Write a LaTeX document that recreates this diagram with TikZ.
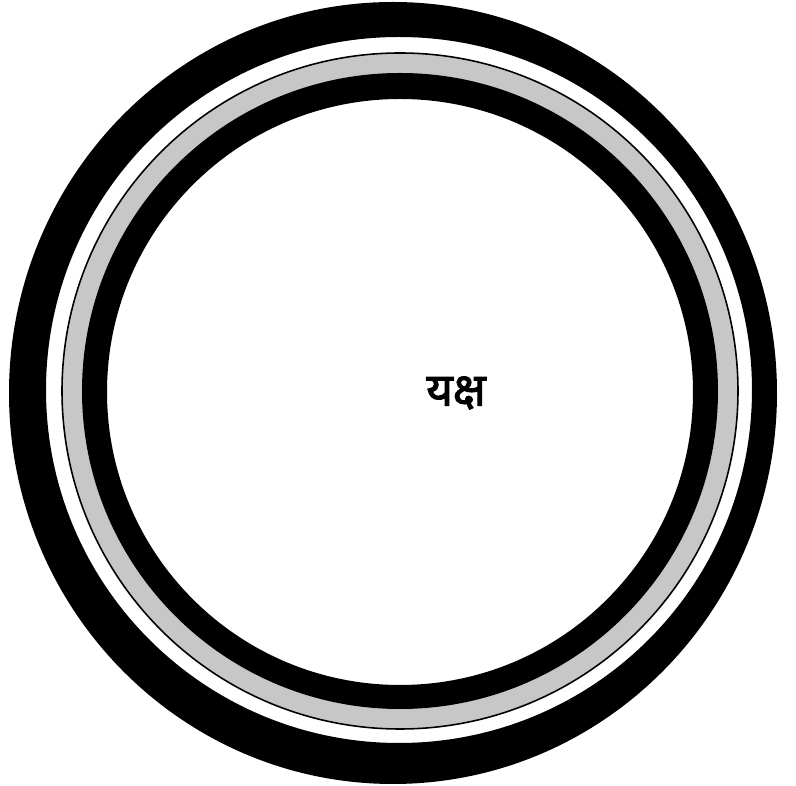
\documentclass[tikz,border=0pt]{standalone}
\usepackage{fontspec}
\newfontfamily\devfont[Script=Devanagari, FakeBold=2.5]{Noto Sans}
\usetikzlibrary{positioning}

\begin{document}
\begin{tikzpicture}[
    x=0.02cm, y=-0.02cm,
    ring/.style={fill=black, even odd rule},
    stipple/.style={fill=black!22, even odd rule},
    rim/.style={draw=black, line width=0.9pt},
    word/.style={font=\devfont\fontsize{26}{28}\selectfont, inner sep=0pt}
]
    \useasboundingbox (0,0) rectangle (796,786);
    \coordinate (outer) at (393,393);
    \coordinate (mid) at (400,391);

    % outer black ring
    \fill[ring] (outer) ellipse[x radius=384, y radius=391]
                (399,390) circle[radius=353];
    % stippled band with its thin rim
    \fill[stipple] (mid) circle[radius=338] (mid) circle[radius=317];
    \draw[rim] (mid) circle[radius=338];
    % inner black ring
    \fill[ring] (mid) circle[radius=318] (400,392) circle[radius=293];

    \node[word] (yaksha) at (456,393) {यक्ष};
\end{tikzpicture}
\end{document}
